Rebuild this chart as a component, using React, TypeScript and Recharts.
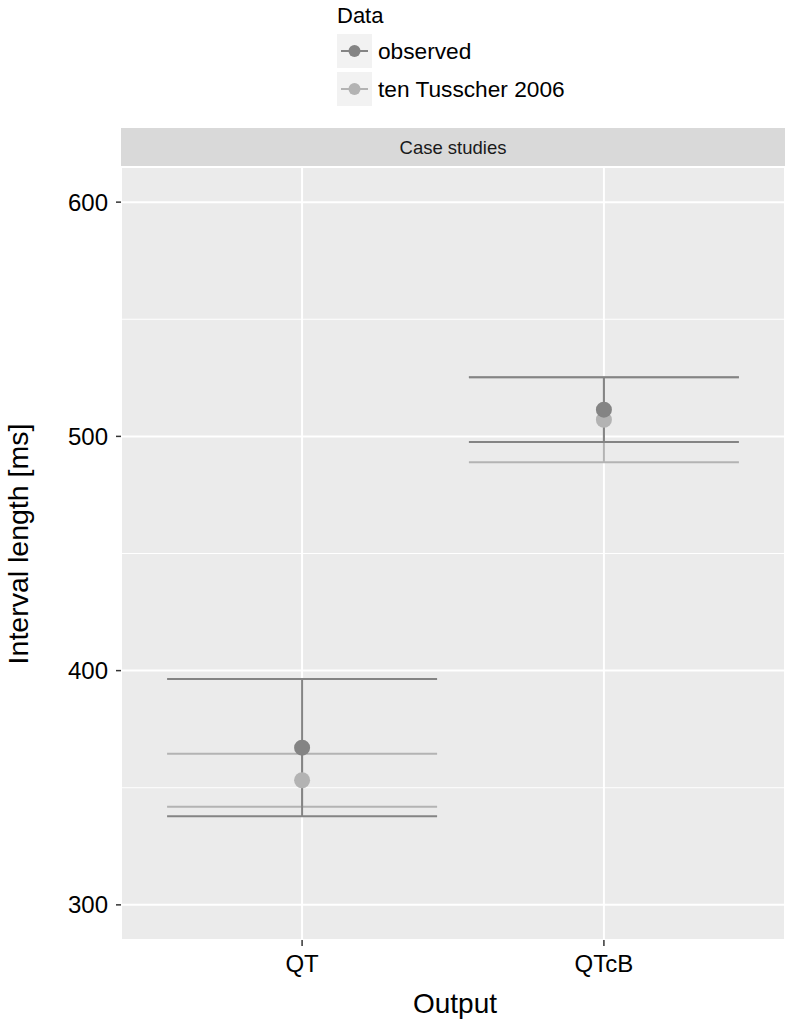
import React from "react";
import {
  ComposedChart,
  Scatter,
  ErrorBar,
  XAxis,
  YAxis,
  CartesianGrid,
  ReferenceLine,
} from "recharts";

// values (mean +/- sd)
const outputs = ["QT", "QTcB"];
const observedMean = [367.1, 511.4];
const observedSd = [29.3, 13.8];
const tusscherMean = [353.2, 507.1];
const tusscherSd = [11.3, 18.1];
const yTicks = [300, 400, 500, 600];
const yMinorTicks = [350, 450, 550];
const xTicks = [1, 2];

const DARK = "#848484";
const LIGHT = "#b3b3b3";
const FONT = "'Liberation Sans', Arial, Helvetica, sans-serif";

// drawn in this order: ten Tusscher below, observed on top
const series = [
  { name: "ten Tusscher 2006", mean: tusscherMean, sd: tusscherSd, color: LIGHT },
  { name: "observed", mean: observedMean, sd: observedSd, color: DARK },
];
const legendItems = [
  { name: "observed", color: DARK },
  { name: "ten Tusscher 2006", color: LIGHT },
];

const toRows = (mean: number[], sd: number[]) =>
  outputs.map((_, i) => ({ x: i + 1, y: mean[i], err: sd[i] }));

const YTitle = () => (
  <text
    x={28}
    y={544}
    transform="rotate(-90, 28, 544)"
    textAnchor="middle"
    fontSize={28.5}
    fill="#000"
  >
    Interval length [ms]
  </text>
);

const XTitle = () => (
  <text x={455} y={1013} textAnchor="middle" fontSize={28} fill="#000">
    Output
  </text>
);

const Legend = () => (
  <div style={{ position: "absolute", left: 337, top: 0, fontFamily: FONT, color: "#000" }}>
    <div style={{ fontSize: 22, height: 31, lineHeight: "31px" }}>Data</div>
    {legendItems.map((item) => (
      <div
        key={item.name}
        style={{ display: "flex", alignItems: "center", height: 36, marginTop: 2 }}
      >
        <svg width={35} height={34} style={{ display: "block" }}>
          <rect x={0} y={0} width={35} height={34} fill="#f2f2f2" />
          <line x1={4} x2={31} y1={17} y2={17} stroke={item.color} strokeWidth={2} />
          <circle cx={17.5} cy={17} r={6} fill={item.color} />
        </svg>
        <span style={{ fontSize: 22.7, marginLeft: 6 }}>{item.name}</span>
      </div>
    ))}
  </div>
);

export default function App() {
  return (
    <div
      style={{
        position: "absolute",
        left: 0,
        top: 0,
        width: 786,
        height: 1022,
        background: "#fff",
        fontFamily: FONT,
      }}
    >
      <Legend />
      <div
        style={{
          position: "absolute",
          left: 121,
          top: 128,
          width: 664,
          height: 39,
          background: "#d9d9d9",
          color: "#1a1a1a",
          fontSize: 18.5,
          lineHeight: "39px",
          textAlign: "center",
        }}
      >
        Case studies
      </div>
      <ComposedChart
        width={786}
        height={1022}
        margin={{ top: 167, right: 1, bottom: 0, left: 0 }}
        style={{ position: "absolute", left: 0, top: 0 }}
      >
        <CartesianGrid fill="#ebebeb" stroke="#ffffff" strokeWidth={2} />
        {yMinorTicks.map((v) => (
          <ReferenceLine key={v} y={v} stroke="#ffffff" strokeWidth={1} />
        ))}
        <XAxis
          type="number"
          dataKey="x"
          domain={[0.4, 2.6]}
          ticks={xTicks}
          tickFormatter={(v) => outputs[v - 1]}
          height={82}
          axisLine={false}
          tickSize={6}
          tickMargin={9}
          tickLine={{ stroke: "#333", strokeWidth: 1.5 }}
          tick={{ fontSize: 24, fill: "#000" }}
          label={{ content: XTitle }}
          allowDataOverflow
        />
        <YAxis
          type="number"
          dataKey="y"
          domain={[285, 615]}
          ticks={yTicks}
          width={121}
          axisLine={false}
          tickSize={5}
          tickMargin={8}
          tickLine={{ stroke: "#333", strokeWidth: 1.5 }}
          tick={{ fontSize: 24, fill: "#000" }}
          label={{ content: YTitle }}
          allowDataOverflow
        />
        {series.map((s) => (
          <Scatter
            key={s.name}
            name={s.name}
            data={toRows(s.mean, s.sd)}
            isAnimationActive={false}
            shape={(p: any) => <circle cx={p.cx} cy={p.cy} r={8} fill={s.color} />}
          >
            <ErrorBar
              dataKey="err"
              direction="y"
              width={135}
              stroke={s.color}
              strokeWidth={2}
              isAnimationActive={false}
            />
          </Scatter>
        ))}
      </ComposedChart>
    </div>
  );
}
